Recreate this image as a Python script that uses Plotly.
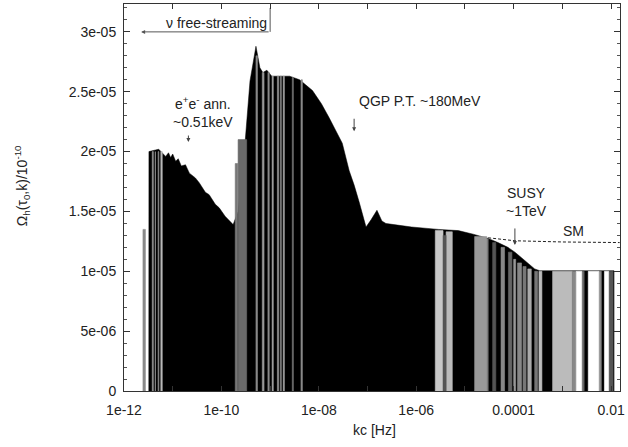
import plotly.graph_objects as go
import numpy as np

# Envelope of the spectrum (kc [Hz], Omega_h)
env_kc = [3.23e-12, 3.25e-12, 5.16e-12, 7.16e-12, 8.2e-12, 9.06e-12, 1.0e-11, 1.15e-11, 1.3e-11, 1.5e-11, 1.83e-11,
          2.2e-11, 2.92e-11, 3.5e-11, 4.68e-11, 5.6e-11, 7.48e-11, 9.0e-11, 1.19e-10, 1.74e-10, 2.20e-10, 3.05e-10, 3.86e-10,
          5.12e-10, 6.17e-10, 7.10e-10, 8.57e-10, 1.08e-09, 2.52e-09, 4.03e-09, 7.41e-09,
          1.13e-08, 1.64e-08, 2.39e-08, 3.03e-08, 4.20e-08, 5.31e-08, 6.71e-08, 9.31e-08,
          1.18e-07, 1.56e-07, 1.97e-07, 2.38e-07, 3.47e-07, 8.05e-07, 2.86e-06, 7.31e-06,
          1.48e-05, 2.99e-05, 4.76e-05, 7.62e-05, 1.06e-04, 1.69e-04, 2.70e-04, 3.42e-04,
          1.15e-02, 1.151e-02]
env_val = [0, 2.00e-05, 2.02e-05, 1.96e-05, 1.99e-05, 1.95e-05, 1.98e-05, 1.92e-05, 1.94e-05, 1.88e-05, 1.89e-05,
           1.82e-05, 1.78e-05, 1.74e-05, 1.66e-05, 1.64e-05, 1.56e-05, 1.53e-05, 1.46e-05, 1.39e-05, 1.50e-05, 2.07e-05, 2.59e-05,
           2.88e-05, 2.70e-05, 2.66e-05, 2.68e-05, 2.63e-05, 2.63e-05, 2.60e-05, 2.51e-05,
           2.40e-05, 2.28e-05, 2.15e-05, 2.07e-05, 1.84e-05, 1.72e-05, 1.58e-05, 1.37e-05,
           1.43e-05, 1.51e-05, 1.42e-05, 1.40e-05, 1.39e-05, 1.37e-05, 1.35e-05, 1.34e-05,
           1.31e-05, 1.275e-05, 1.24e-05, 1.20e-05, 1.16e-05, 1.09e-05, 1.02e-05, 1.005e-05,
           1.005e-05, 0]

# Shaded bands inside the spectrum (start kc, end kc, top, shade)
band_start = [2.45e-12, 3.80e-12, 4.40e-12, 5.00e-12, 5.70e-12,
              1.92e-10, 2.20e-10, 5.12e-10, 6.9e-10, 9.0e-10, 1.10e-09, 1.41e-09, 1.62e-09, 1.86e-09, 2.85e-09, 4.3e-09,
              2.46e-06, 3.55e-06, 4.1e-06, 1.58e-05, 2.6e-05, 3.7e-05, 5.5e-05, 7.8e-05, 1.00e-04,
              1.2e-04, 1.55e-04, 1.95e-04, 2.7e-04, 3.3e-04, 6.3e-04, 1.6e-03, 1.93e-03, 2.5e-03, 3.4e-03, 5.6e-03, 7.3e-03, 8.9e-03]
band_end = [2.75e-12, 4.00e-12, 4.55e-12, 5.20e-12, 6.10e-12,
            2.15e-10, 3.30e-10, 5.5e-10, 7.5e-10, 9.6e-10, 1.16e-09, 1.50e-09, 1.70e-09, 1.96e-09, 3.0e-09, 4.6e-09,
            3.55e-06, 4.1e-06, 5.5e-06, 2.8e-05, 3.0e-05, 4.3e-05, 6.5e-05, 9.2e-05, 1.10e-04,
            1.45e-04, 1.8e-04, 2.3e-04, 3.1e-04, 3.8e-04, 1.6e-03, 1.93e-03, 2.5e-03, 2.8e-03, 5.6e-03, 6.3e-03, 8.9e-03, 1.1e-02]
band_top = [1.35e-05, 2.0e-05, 2.0e-05, 2.0e-05, 2.0e-05,
            1.9e-05, 2.1e-05, 2.8e-05, 2.66e-05, 2.66e-05, 2.63e-05, 2.63e-05, 2.63e-05, 2.63e-05, 2.62e-05, 2.6e-05,
            1.34e-05, 1.30e-05, 1.33e-05, 1.29e-05, 1.27e-05, 1.24e-05, 1.20e-05, 1.16e-05, 1.10e-05,
            1.07e-05, 1.04e-05, 1.02e-05, 1.0e-05, 1.0e-05, 1.0e-05, 1.0e-05, 1.0e-05, 1.0e-05, 1.0e-05, 1.0e-05, 1.0e-05, 1.0e-05]
band_shade = ['#8a8a8a', '#9a9a9a', '#aaaaaa', '#8a8a8a', '#bbbbbb',
              '#777777', '#6a6a6a', '#8a8a8a', '#999999', '#8a8a8a', '#aaaaaa', '#999999', '#8a8a8a', '#aaaaaa', '#777777', '#8a8a8a',
              '#c8c8c8', '#555555', '#bbbbbb', '#999999', '#777777', '#555555', '#888888', '#666666', '#999999',
              '#888888', '#777777', '#aaaaaa', '#777777', '#bbbbbb', '#bbbbbb', '#888888', '#ffffff', '#666666', '#ffffff', '#888888', '#ffffff', '#555555']

# Standard Model reference curve
sm_kc = [2.99e-05, 1.06e-04, 1.0e-03, 1.5e-02]
sm_val = [1.28e-05, 1.255e-05, 1.245e-05, 1.24e-05]

x_tickvals = [10.0 ** e for e in range(-12, -1)]
x_ticktext = ['1e-12', '', '1e-10', '', '1e-08', '', '1e-06', '', '0.0001', '', '0.01']
y_tickvals = [0, 5e-06, 1e-05, 1.5e-05, 2e-05, 2.5e-05, 3e-05]
y_ticktext = ['0', '5e-06', '1e-05', '1.5e-05', '2e-05', '2.5e-05', '3e-05']

FONT = 'Liberation Sans'
TXT = '#222222'

fig = go.Figure()
fig.add_trace(go.Scatter(x=env_kc, y=env_val, mode='lines', fill='toself',
                         fillcolor='black', line=dict(width=0.5, color='black'),
                         hoverinfo='skip', showlegend=False))

# group bands by shade
shades = []
for s in band_shade:
    if s not in shades:
        shades.append(s)
for s in shades:
    xs, ys = [], []
    for a, b, t, c in zip(band_start, band_end, band_top, band_shade):
        if c != s:
            continue
        xs += [a, a, b, b, a, None]
        ys += [0, t, t, 0, 0, None]
    fig.add_trace(go.Scatter(x=xs, y=ys, mode='lines', fill='toself', fillcolor=s,
                             line=dict(width=0.6, color=s), connectgaps=False,
                             hoverinfo='skip', showlegend=False))

fig.add_trace(go.Scatter(x=sm_kc, y=sm_val, mode='lines',
                         line=dict(color='#222222', width=1, dash='3px,2px'),
                         hoverinfo='skip', showlegend=False))

ann_font = dict(family=FONT, size=14, color=TXT)
texts = [
    (np.log10(7.8e-11), 3.075e-05, 'ν free-streaming'),
    (np.log10(4.2e-11), 2.33e-05, 'e<sup>+</sup>e<sup>-</sup> ann.<br>~0.51keV'),
    (np.log10(1.18e-06), 2.425e-05, 'QGP P.T. ~180MeV'),
    (np.log10(1.85e-04), 1.58e-05, 'SUSY<br>~1TeV'),
    (np.log10(1.68e-03), 1.34e-05, 'SM'),
]
for x, y, t in texts:
    fig.add_annotation(x=x, y=y, xref='x', yref='y', text=t, showarrow=False,
                       font=ann_font, align='center')

# arrows (tip position, tail offset in pixels)
arrows = [
    (np.log10(2.1e-11), 2.08e-05, 0, -8),
    (np.log10(5.3e-08), 2.17e-05, 0, -14),
    (np.log10(1.06e-04), 1.22e-05, 0, -18),
]
for x, y, ax, ay in arrows:
    fig.add_annotation(x=x, y=y, xref='x', yref='y', text='', showarrow=True,
                       arrowhead=2, arrowsize=0.8, arrowwidth=1, arrowcolor='#444',
                       ax=ax, ay=ay)
# free-streaming arrow
fig.add_annotation(x=np.log10(2.25e-12), y=3.0e-05, xref='x', yref='y',
                   ax=np.log10(1.0e-09), ay=3.0e-05, axref='x', ayref='y',
                   text='', showarrow=True, arrowhead=2, arrowsize=0.8, arrowwidth=1,
                   arrowcolor='#555')
fig.add_trace(go.Scatter(x=[1.0e-09, 1.0e-09], y=[3.0e-05, 3.2e-05], mode='lines',
                         line=dict(color='#555', width=1), hoverinfo='skip', showlegend=False))

# axis titles
fig.add_annotation(x=-0.205, y=0.53, xref='paper', yref='paper',
                   text='Ω<sub>h</sub>(τ<sub>0</sub>,k)/10<sup>-10</sup>', textangle=-90,
                   xanchor='center', yanchor='middle',
                   showarrow=False, font=ann_font)
fig.add_annotation(x=0.506, y=-0.10, xref='paper', yref='paper', text='kc [Hz]',
                   xanchor='center', yanchor='middle',
                   showarrow=False, font=ann_font)

fig.update_xaxes(type='log', range=[-12, -1.817], tickvals=x_tickvals, ticktext=x_ticktext,
                 ticks='inside', ticklen=5, tickcolor='#333', showline=True, linecolor='#333',
                 linewidth=1, mirror='ticks', showgrid=False, zeroline=False,
                 ticklabelstandoff=6, ticklabeloverflow='allow',
                 tickfont=dict(family=FONT, size=14, color=TXT))
fig.update_yaxes(range=[0, 3.233e-05], tickvals=y_tickvals, ticktext=y_ticktext,
                 ticks='inside', ticklen=6, tickcolor='#333', showline=True, linecolor='#333',
                 linewidth=1, mirror='ticks', showgrid=False, zeroline=False,
                 ticklabelstandoff=4,
                 minor=dict(dtick=1e-06, ticks='inside', ticklen=3, tickcolor='#555', showgrid=False),
                 tickfont=dict(family=FONT, size=14, color=TXT))
fig.update_layout(width=628, height=447, margin=dict(l=124, r=4, t=3, b=56),
                  plot_bgcolor='white', paper_bgcolor='white', showlegend=False)
fig.write_html('out.html')
